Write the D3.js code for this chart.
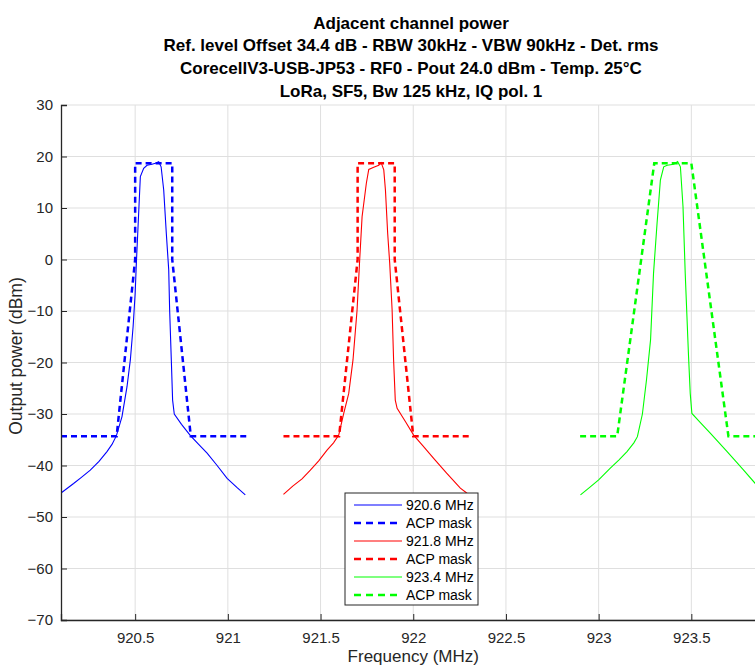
<!DOCTYPE html>
<html>
<head>
<meta charset="utf-8">
<script src="https://cdn.jsdelivr.net/npm/d3@7"></script>
<style>
  body { margin: 0; background: #fff; }
  text { font-family: "Liberation Sans", Arial, sans-serif; }
</style>
</head>
<body>
<div id="chart"></div>
<script>
var blueFreq = [920.102, 920.168, 920.21, 920.258, 920.305, 920.348, 920.375, 920.399, 920.429, 920.456, 920.474, 920.489, 920.5, 920.507, 920.518, 920.528, 920.546, 920.564, 920.591, 920.609, 920.627, 920.64, 920.654, 920.668, 920.681, 920.686, 920.695, 920.702, 920.711, 920.75, 920.798, 920.84, 920.888, 920.94, 920.996, 921.05, 921.094];
var bluePow  = [-45.3, -43.5, -42.3, -40.9, -39.2, -37.3, -35.9, -34.2, -30.5, -24.7, -19.5, -13.0, -6.6, -0.3, 8.3, 16.1, 17.7, 18.3, 18.5, 18.7, 19.0, 18.0, 13.5, 5.1, -2.0, -9.8, -19.5, -27.3, -30.0, -32.0, -34.2, -35.8, -37.6, -39.9, -42.5, -44.3, -45.7];

var redFreq = [921.3, 921.35, 921.4, 921.445, 921.49, 921.535, 921.57, 921.598, 921.625, 921.652, 921.675, 921.697, 921.711, 921.724, 921.747, 921.76, 921.787, 921.814, 921.827, 921.841, 921.85, 921.862, 921.873, 921.886, 921.894, 921.903, 921.913, 921.96, 922.002, 922.05, 922.11, 922.18, 922.254, 922.29];
var redPow  = [-45.6, -44.0, -42.6, -40.9, -39.1, -37.0, -35.6, -34.1, -29.9, -26.0, -19.5, -9.8, -0.1, 8.3, 14.8, 17.5, 17.9, 18.3, 18.8, 17.4, 13.5, 5.1, -0.7, -9.8, -19.5, -27.3, -28.9, -31.6, -34.1, -36.1, -38.6, -41.5, -44.4, -45.4];

var greenFreq = [922.902, 922.95, 923.0, 923.063, 923.11, 923.153, 923.19, 923.209, 923.236, 923.258, 923.28, 923.296, 923.315, 923.333, 923.351, 923.37, 923.405, 923.426, 923.441, 923.455, 923.467, 923.485, 923.494, 923.503, 923.55, 923.602, 923.65, 923.693, 923.74, 923.782, 923.845, 923.9];
var greenPow  = [-45.7, -44.3, -42.8, -40.5, -38.9, -37.3, -35.6, -34.4, -30.0, -23.4, -15.6, -2.7, 7.0, 15.4, 18.0, 18.3, 18.5, 19.0, 18.0, 10.3, -2.7, -18.9, -26.0, -29.9, -31.7, -33.7, -35.6, -37.3, -39.2, -40.9, -43.5, -45.4];

// ACP masks
var blueMaskFreq = [920.1, 920.4, 920.5, 920.5, 920.7, 920.7, 920.8, 921.1];
var blueMaskPow  = [-34.3, -34.3, 0, 18.7, 18.7, 0, -34.3, -34.3];
var redMaskFreq  = [921.3, 921.6, 921.7, 921.7, 921.9, 921.9, 922.0, 922.3];
var redMaskPow   = [-34.3, -34.3, 0, 18.7, 18.7, 0, -34.3, -34.3];
var greenMaskFreq = [922.9, 923.1, 923.3, 923.5, 923.7, 923.9];
var greenMaskPow  = [-34.3, -34.3, 18.7, 18.7, -34.3, -34.3];

var xTicks = [920.5, 921, 921.5, 922, 922.5, 923, 923.5];
var yTicks = [-70, -60, -50, -40, -30, -20, -10, 0, 10, 20, 30];

var titleLines = [
  "Adjacent channel power",
  "Ref. level Offset 34.4 dB - RBW 30kHz - VBW 90kHz - Det. rms",
  "CorecellV3-USB-JP53 - RF0 - Pout 24.0 dBm - Temp. 25°C",
  "LoRa, SF5, Bw 125 kHz, IQ pol. 1"
];

var series = [
  {name: "920.6 MHz", f: blueFreq, p: bluePow, color: "#0000ff", dash: false},
  {name: "ACP mask", f: blueMaskFreq, p: blueMaskPow, color: "#0000ff", dash: true},
  {name: "921.8 MHz", f: redFreq, p: redPow, color: "#ff0000", dash: false},
  {name: "ACP mask", f: redMaskFreq, p: redMaskPow, color: "#ff0000", dash: true},
  {name: "923.4 MHz", f: greenFreq, p: greenPow, color: "#00ff00", dash: false},
  {name: "ACP mask", f: greenMaskFreq, p: greenMaskPow, color: "#00ff00", dash: true}
];

var width = 755, height = 666;
var axColor = "#262626";

var x = d3.scaleLinear().domain([920.1, 923.9]).range([61, 765.5]);
var y = d3.scaleLinear().domain([-70, 30]).range([620, 105]);

var svg = d3.select("#chart").append("svg")
  .attr("width", width)
  .attr("height", height);

// grid
svg.append("g").selectAll("line").data(xTicks).enter().append("line")
  .attr("x1", d => x(d)).attr("x2", d => x(d))
  .attr("y1", y(-70)).attr("y2", y(30))
  .attr("stroke", "#dfdfdf").attr("stroke-width", 1);
svg.append("g").selectAll("line").data(yTicks).enter().append("line")
  .attr("x1", x(920.1)).attr("x2", x(923.9))
  .attr("y1", d => y(d)).attr("y2", d => y(d))
  .attr("stroke", "#dfdfdf").attr("stroke-width", 1);

// curves
var line = d3.line()
  .x(d => x(d[0]))
  .y(d => y(d[1]));

series.forEach(function(s) {
  var pts = s.f.map((f, i) => [f, s.p[i]]);
  svg.append("path")
    .datum(pts)
    .attr("d", line)
    .attr("fill", "none")
    .attr("stroke", s.color)
    .attr("stroke-width", s.dash ? 2.5 : 1.1)
    .attr("stroke-dasharray", s.dash ? "6,4" : null);
});

// axes (ticks inward, MATLAB style)
var xAxis = svg.append("g")
  .attr("transform", "translate(0," + y(-70) + ")")
  .call(d3.axisBottom(x).tickValues(xTicks).tickSize(-6).tickPadding(12).tickFormat(d3.format("")));
var yAxis = svg.append("g")
  .attr("transform", "translate(" + x(920.1) + ",0)")
  .call(d3.axisLeft(y).tickValues(yTicks).tickSize(-6).tickPadding(8).tickFormat(d3.format("")));

[xAxis, yAxis].forEach(function(a) {
  a.select(".domain").attr("stroke", axColor).attr("stroke-width", 1.3);
  a.selectAll(".tick line").attr("stroke", axColor);
  a.selectAll(".tick text")
    .attr("fill", axColor)
    .style("font-size", "15px")
    .style("font-family", "'Liberation Sans', Arial, sans-serif");
});

// axis labels
svg.append("text")
  .attr("x", (x(920.1) + x(923.9)) / 2)
  .attr("y", 662)
  .attr("text-anchor", "middle")
  .attr("fill", axColor)
  .style("font-size", "17px")
  .text("Frequency (MHz)");

svg.append("text")
  .attr("transform", "translate(22,356) rotate(-90)")
  .attr("text-anchor", "middle")
  .attr("fill", axColor)
  .style("font-size", "17.5px")
  .text("Output power (dBm)");

// title
svg.append("g").selectAll("text").data(titleLines).enter().append("text")
  .attr("x", 411)
  .attr("y", (d, i) => 28.5 + i * 22.8)
  .attr("text-anchor", "middle")
  .attr("fill", "#000")
  .style("font-size", "17px")
  .style("font-weight", "bold")
  .text(d => d);

// legend
var lg = svg.append("g").attr("transform", "translate(345,493)");
lg.append("rect")
  .attr("width", 133).attr("height", 112)
  .attr("fill", "#fff").attr("stroke", "#262626").attr("stroke-width", 1);
var rows = lg.selectAll(".row").data(series).enter().append("g")
  .attr("transform", (d, i) => "translate(0," + (12 + i * 18) + ")");
rows.append("line")
  .attr("x1", 9).attr("x2", 57).attr("y1", 0).attr("y2", 0)
  .attr("stroke", d => d.color)
  .attr("stroke-width", d => d.dash ? 2.5 : 1.1)
  .attr("stroke-dasharray", d => d.dash ? "7,5" : null);
rows.append("text")
  .attr("x", 61).attr("y", 5)
  .attr("fill", "#000")
  .style("font-size", "14px")
  .text(d => d.name);
</script>
</body>
</html>
